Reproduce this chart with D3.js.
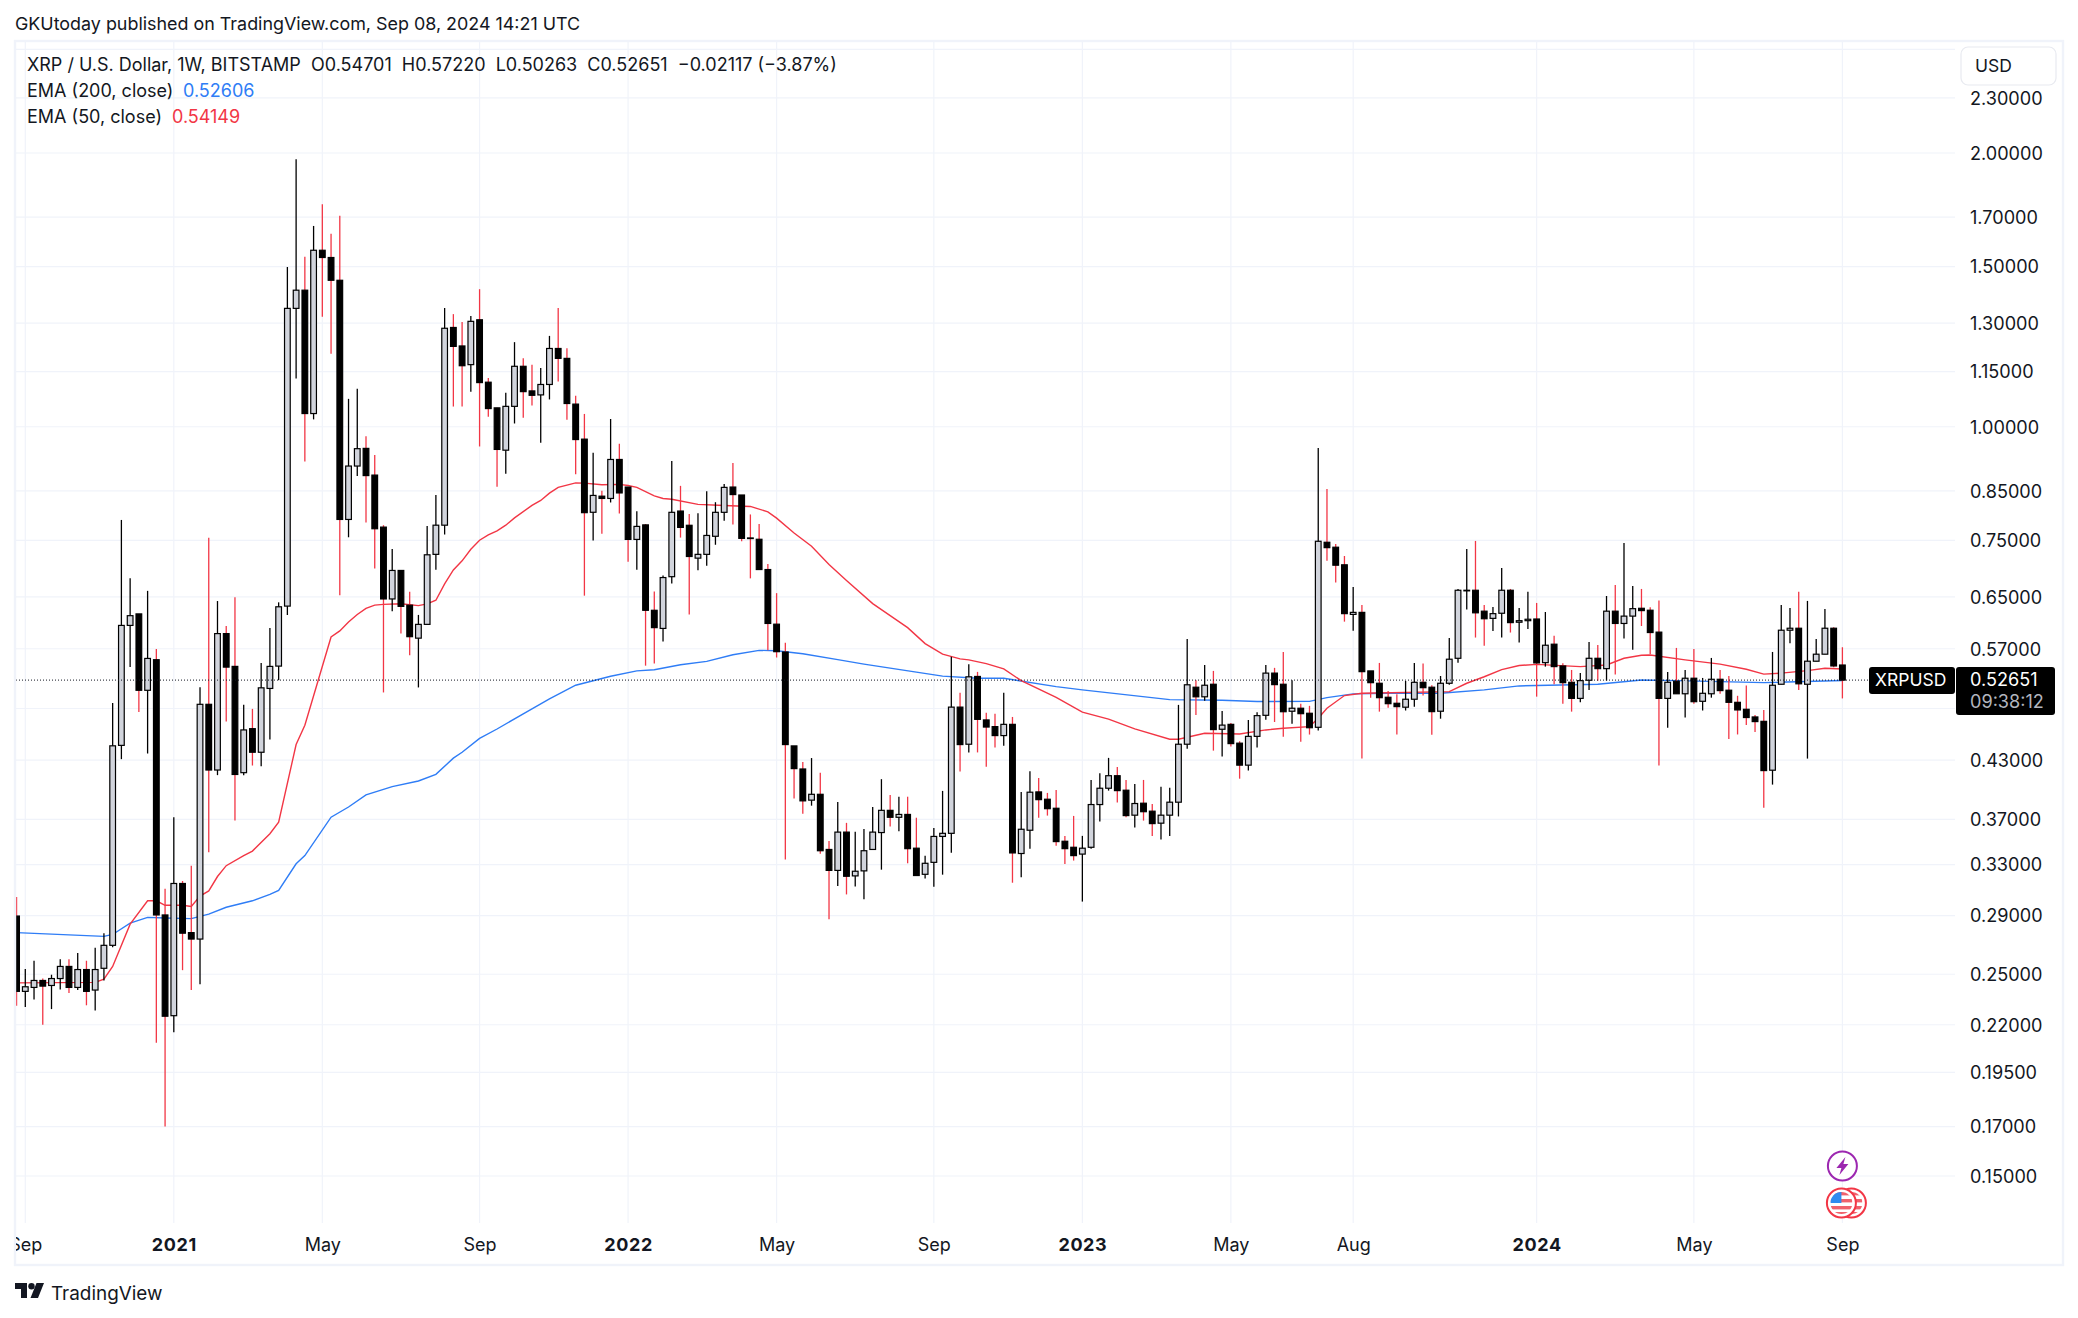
<!DOCTYPE html>
<html>
<head>
<meta charset="utf-8">
<script src="https://d3js.org/d3.v7.min.js"></script>
<style>
  html, body { margin: 0; padding: 0; background: #fff; }
  svg { display: block; }
  text { font-family: Inter, "Noto Sans", sans-serif; fill: #131722; white-space: pre; }
</style>
</head>
<body>
<svg id="chart" width="2078" height="1318"></svg>
<script>
// --- weekly XRP/USD candles, one entry per bar ---
const opens = [
  .2897,.2394,.2418,.2461,.2430,.2473,.2550,.2418,.2530,.2402,
  .2538,.2690,.4463,.6047,.6226,.5131,.5544,.2905,.2251,.3146,
  .2778,.2733,.4952,.4193,.5923,.5451,.4165,.4656,.4386,.5155,
  .5455,.6350,1.3495,1.4131,1.0340,1.5634,1.5350,1.4490,.7908,.9053,
  .9467,.8848,.7756,.6466,.6950,.6365,.5855,.6063,.7239,.7794,
  1.2858,1.2270,1.1703,1.3111,1.1194,1.0490,.9424,1.0530,1.1654,1.0950,
  1.0840,1.1130,1.2192,1.1890,1.0590,.9691,.8053,.8388,.8340,.9205,
  .8584,.7518,.7800,.6283,.6001,.6841,.8078,.7792,.7170,.7239,
  .7578,.8052,.8584,.8413,.7546,.7521,.6966,.6066,.5653,.4457,
  .4204,.3885,.3943,.3429,.3252,.3583,.3207,.3248,.3429,.3579,
  .3786,.3720,.3747,.3440,.3220,.3319,.3544,.3572,.4917,.4476,
  .5314,.4760,.4680,.4575,.4707,.3394,.3600,.3967,.3894,.3806,
  .3501,.3448,.3389,.3448,.3842,.4004,.4133,.3984,.3740,.3855,
  .3778,.3665,.3740,.3865,.4476,.5171,.5047,.5210,.4649,.4707,
  .4488,.4245,.4566,.4816,.5359,.5210,.4866,.4903,.4841,.4672,
  .7464,.7371,.7050,.6218,.6250,.5389,.5223,.5041,.4965,.4916,
  .5016,.5236,.5171,.4866,.5223,.5564,.6604,.6610,.6269,.6156,
  .6236,.6610,.6096,.6120,.6146,.5503,.5766,.5457,.5236,.5027,
  .5263,.5564,.5420,.6269,.6077,.6191,.6315,.6284,.5945,.5027,
  .5250,.5086,.5290,.4990,.5086,.5276,.5132,.4977,.4890,.4796,
  .4743,.4191,.5210,.5974,.6004,.5210,.5523,.5622,.6004,.54701
];
const closes = [
  .2394,.2422,.2461,.2426,.2473,.2550,.2418,.2530,.2394,.2530,
  .2690,.4458,.6047,.6198,.5131,.5562,.2905,.2248,.3146,.2774,
  .2733,.4952,.4193,.5923,.5441,.4146,.4641,.4386,.5163,.5451,
  .6339,1.3495,1.4131,1.0340,1.5634,1.5350,1.4490,.7908,.9053,.9460,
  .8837,.7724,.6466,.6950,.6346,.5877,.6063,.7231,.7794,1.2832,
  1.2256,1.1671,1.3059,1.1183,1.0471,.9442,1.0530,1.1654,1.0930,1.0829,
  1.1130,1.2192,1.1890,1.0606,.9681,.8045,.8404,.8340,.9205,.8457,
  .7518,.7770,.6283,.6013,.6826,.8052,.7750,.7200,.7239,.7594,
  .8052,.8577,.8422,.7538,.7538,.6966,.6077,.5658,.4472,.4208,
  .3878,.3943,.3418,.3252,.3583,.3204,.3245,.3418,.3583,.3786,
  .3720,.3747,.3436,.3210,.3311,.3544,.3572,.4917,.4472,.5309,
  .4767,.4675,.4575,.4707,.3399,.3609,.3964,.3890,.3802,.3498,
  .3436,.3376,.3440,.3842,.4004,.4133,.3980,.3736,.3852,.3773,
  .3661,.3740,.3865,.4476,.5203,.5047,.5197,.4645,.4698,.4483,
  .4245,.4566,.4812,.5359,.5205,.4860,.4903,.4836,.4667,.7483,
  .7363,.7043,.6230,.6250,.5379,.5231,.5036,.4960,.4923,.5016,
  .5236,.5165,.4861,.5223,.5551,.6610,.6610,.6243,.6150,.6230,
  .6610,.6090,.6120,.6142,.5499,.5751,.5448,.5231,.5027,.5258,
  .5564,.5420,.6269,.6077,.6191,.6309,.6278,.5939,.5027,.5236,
  .5086,.5290,.4985,.5092,.5276,.5127,.4977,.4882,.4789,.4740,
  .4187,.5197,.5974,.6004,.5216,.5523,.5622,.6004,.5457,.52651
];
const highs = [
  .3041,.2534,.2587,.2473,.2497,.2596,.2596,.2639,.2587,.2673,
  .2774,.4968,.7898,.6816,.6226,.6600,.5697,.3105,.3721,.3166,
  .3291,.5172,.7550,.6432,.6038,.6494,.4945,.4895,.5499,.6009,
  .6411,1.4990,1.9692,1.5377,1.6627,1.7569,1.6302,1.7058,1.0732,1.1012,
  .9764,.9312,.7794,.7337,.6950,.6583,.6210,.7776,.8413,1.3508,
  1.3300,1.3036,1.3238,1.4167,1.1314,1.0490,1.0896,1.2389,1.1893,1.1697,
  1.1601,1.2587,1.3508,1.2200,1.0817,1.0330,.9362,.8502,1.0199,.9577,
  .8584,.8076,.7817,.6590,.6862,.9170,.8610,.8018,.8034,.8493,
  .8261,.8650,.9121,.8413,.8009,.7817,.7063,.6562,.5788,.4457,
  .4280,.4322,.4163,.3503,.3867,.3668,.3586,.3612,.3819,.4097,
  .3935,.3919,.3919,.3716,.3375,.3621,.3977,.5587,.5098,.5481,
  .5376,.4846,.4834,.5098,.4796,.3967,.4180,.4110,.3957,.3987,
  .3549,.3733,.3549,.4089,.4159,.4324,.4226,.4089,.4048,.4089,
  .3848,.4018,.4008,.4945,.5844,.5263,.5471,.5389,.4870,.4724,
  .4510,.4760,.4854,.5471,.5431,.5654,.5263,.4958,.4933,.9477,
  .8543,.7432,.7209,.6665,.6369,.5389,.5499,.5123,.5080,.5254,
  .5499,.5490,.5197,.5320,.5858,.6632,.7339,.7489,.6369,.6336,
  .6994,.6632,.6320,.6583,.6401,.6256,.5889,.5495,.5402,.5361,
  .5800,.5756,.6515,.6700,.7452,.6682,.6632,.6331,.6439,.5375,
  .5712,.5402,.5697,.5294,.5569,.5402,.5320,.5060,.5192,.4821,
  .4882,.5654,.6369,.6320,.6583,.6434,.5844,.6305,.6020,.5722
];
const lows = [
  .2308,.2301,.2345,.2200,.2289,.2406,.2384,.2402,.2311,.2281,
  .2461,.2677,.4310,.5441,.4857,.4372,.2102,.1700,.2159,.2526,
  .2402,.2438,.3405,.4139,.4740,.3691,.4139,.4241,.4234,.4531,
  .5264,.6209,1.1300,.9158,1.0188,1.3215,1.2034,.6525,.7559,.8825,
  .7845,.6984,.5103,.6267,.5924,.5606,.5168,.6063,.6964,.7612,
  1.0525,1.0525,1.0926,.9513,1.0258,.8592,.8879,1.0083,1.0230,1.0554,
  .9605,1.0716,1.1214,1.0180,.8866,.6520,.7497,.7628,.8255,.8028,
  .7106,.6964,.5461,.5490,.5806,.6725,.7553,.6216,.6952,.7035,
  .7417,.7883,.7806,.7481,.6812,.6966,.5677,.5575,.3343,.3901,
  .3754,.3831,.3393,.2873,.3126,.3060,.3122,.3022,.3429,.3258,
  .3634,.3590,.3311,.3210,.3186,.3121,.3217,.3401,.4178,.4384,
  .4384,.4228,.4438,.4460,.3152,.3197,.3436,.3715,.3736,.3462,
  .3306,.3334,.3005,.3436,.3680,.3980,.3861,.3721,.3626,.3689,
  .3549,.3516,.3549,.3728,.4426,.4821,.4998,.4404,.4338,.4450,
  .4102,.4187,.4438,.4763,.4735,.4561,.4714,.4505,.4587,.4633,
  .7124,.6739,.6105,.5967,.4316,.5036,.4861,.4910,.4587,.4875,
  .4923,.5063,.4586,.4775,.5205,.5503,.6294,.5864,.5745,.5961,
  .5864,.5939,.5790,.5993,.5049,.5448,.5210,.4960,.4861,.4977,
  .5136,.5258,.5258,.5339,.5850,.5687,.6038,.5626,.4241,.4668,
  .5086,.4789,.4958,.4875,.5036,.5086,.4536,.4588,.4700,.4618,
  .3811,.4041,.5210,.5781,.5136,.4316,.5523,.5622,.5439,.50263
];

// EMA curves, sampled at the bars where the curve bends
const ema200Bars = [0,10,11,13,15,17,20,22,24,27,29,30,32,33,36,38,40,43,46,48,50,51,53,55,58,61,64,68,71,73,76,79,82,85,87,90,94,97,103,106,110,113,119,122,132,138,142,148,150,153,157,163,168,172,181,186,190,200,209];
const ema200 = [.2778,.2752,.2765,.2846,.2887,.2883,.2878,.2911,.2962,.3011,.3060,.3091,.3307,.3376,.3721,.3818,.3937,.4021,.4078,.4147,.4321,.4386,.4542,.4652,.4834,.5020,.5197,.5317,.5389,.5405,.5473,.5520,.5614,.5677,.5672,.5629,.5545,.5482,.5373,.5318,.5290,.5289,.5179,.5136,.5011,.5004,.4987,.4989,.5036,.5084,.5093,.5093,.5136,.5188,.5210,.5267,.5258,.5231,.52606];
const ema50Bars = [0,9,10,11,13,15,16,17,19,20,21,22,23,24,26,27,29,30,32,33,36,37,38,39,40,41,42,44,46,47,48,49,50,51,52,53,54,55,56,57,59,60,61,62,64,65,67,69,70,71,73,74,75,78,81,84,86,87,89,91,93,95,98,100,102,104,106,108,109,111,113,115,119,122,125,128,132,133,136,140,143,145,148,149,150,152,154,164,166,168,170,172,174,179,182,184,186,187,191,195,198,200,202,205,207,209];
const ema50 = [.2446,.2449,.2469,.2550,.2838,.3011,.3011,.2977,.2977,.2968,.3047,.3087,.3202,.3291,.3376,.3415,.3568,.3674,.4473,.4697,.5873,.5964,.6100,.6216,.6314,.6365,.6378,.6389,.6358,.6386,.6445,.6718,.6959,.7121,.7332,.7502,.7605,.7681,.7794,.7940,.8195,.8298,.8452,.8576,.8675,.8669,.8634,.8643,.8618,.8576,.8396,.8340,.8323,.8216,.8192,.8173,.8062,.7934,.7642,.7388,.7057,.6776,.6390,.6200,.6013,.5775,.5623,.5555,.5541,.5490,.5416,.5258,.5041,.4854,.4769,.4653,.4533,.4533,.4602,.4594,.4641,.4661,.4680,.4781,.4903,.5063,.5093,.5114,.5223,.5310,.5406,.5463,.5479,.5448,.5471,.5564,.5606,.5610,.5541,.5482,.5412,.5345,.5359,.5393,.5425,.54149];

// axis labels; the two covered prices only show as gridlines
const priceTicks = [2.3,2,1.7,1.5,1.3,1.15,1,.85,.75,.65,.57,.43,.37,.33,.29,.25,.22,.195,.17,.15];
const coveredPrices = [2.6,.49];
const timeTickBars = [1,18,35,53,70,87,105,122,139,153,174,192,209];
const timeTickLabels = ["Sep","2021","May","Sep","2022","May","Sep","2023","May","Aug","2024","May","Sep"];
const yearBars = [18,70,122,174];
const lastClose = .52651;

const RED = "#f23645", BLUE = "#2f7df6", GREY = "#d1d4dc", FRAME = "#f0f3fa", INK = "#131722";

const svg = d3.select("#chart");

const x = d3.scaleLinear().domain([0, 209]).range([16.56, 1842.4]);
const y = d3.scaleLog().domain([2, .15]).range([153, 1176]);

const defs = svg.append("defs");
defs.append("clipPath").attr("id", "pane").append("rect").attr("x", 16).attr("y", 42).attr("width", 1939).attr("height", 1181);
defs.append("clipPath").attr("id", "timeAxis").append("rect").attr("x", 16).attr("y", 1224).attr("width", 2046).attr("height", 40);

// header above the frame
svg.append("text").attr("x", 15).attr("y", 23.5).attr("dy", ".35em").style("font-size", "17.9px")
  .text("GKUtoday published on TradingView.com, Sep 08, 2024 14:21 UTC");

// gridlines
const pane = svg.append("g").attr("clip-path", "url(#pane)");
pane.append("g").selectAll("line").data(priceTicks.concat(coveredPrices)).enter().append("line")
  .attr("x1", 16).attr("x2", 1955).attr("y1", d => y(d)).attr("y2", d => y(d))
  .attr("stroke", FRAME).attr("stroke-width", 1.2);
pane.append("g").selectAll("line").data(timeTickBars).enter().append("line")
  .attr("x1", d => x(d)).attr("x2", d => x(d)).attr("y1", 42).attr("y2", 1223)
  .attr("stroke", FRAME).attr("stroke-width", 1.2);

// EMA lines
const emaLine = d3.line().x(d => x(d[0])).y(d => y(d[1]));
pane.append("path").attr("d", emaLine(d3.zip(ema200Bars, ema200))).attr("fill", "none").attr("stroke", BLUE).attr("stroke-width", 1.4);
pane.append("path").attr("d", emaLine(d3.zip(ema50Bars, ema50))).attr("fill", "none").attr("stroke", RED).attr("stroke-width", 1.4);

// last price line
svg.append("line").attr("x1", 16).attr("x2", 1869).attr("y1", y(lastClose)).attr("y2", y(lastClose))
  .attr("stroke", INK).attr("stroke-width", 1).attr("stroke-dasharray", "1 2");

// candles
const candles = pane.append("g");
const bodyWidth = 5.7;
opens.forEach((o, i) => {
  const c = closes[i], up = c >= o;
  const top = y(Math.max(o, c)), bottom = y(Math.min(o, c));
  candles.append("line")
    .attr("x1", x(i)).attr("x2", x(i)).attr("y1", y(highs[i])).attr("y2", y(lows[i]))
    .attr("stroke", up ? "#000" : RED).attr("stroke-width", 1.3);
  candles.append("rect")
    .attr("x", x(i) - bodyWidth / 2).attr("width", bodyWidth)
    .attr("y", top).attr("height", Math.max(bottom - top, .6))
    .attr("fill", up ? GREY : "#000").attr("stroke", "#000").attr("stroke-width", 1.2);
});

// frame
svg.append("rect").attr("x", 15).attr("y", 41).attr("width", 2048).attr("height", 1224)
  .attr("fill", "none").attr("stroke", FRAME).attr("stroke-width", 2.4);

// price axis
const priceAxis = svg.append("g").attr("transform", "translate(1970,.5)")
  .call(d3.axisRight(y).tickValues(priceTicks).tickSize(0).tickPadding(0).tickFormat(d3.format(".5f")));
priceAxis.select(".domain").remove();
priceAxis.selectAll("text").style("font-size", "18.1px").attr("fill", null).style("font-family", "Inter");

// time axis
const timeAxis = svg.append("g").attr("clip-path", "url(#timeAxis)").append("g").attr("transform", "translate(0,1238)")
  .call(d3.axisBottom(x).tickValues(timeTickBars).tickSize(0).tickPadding(0)
    .tickFormat((d, i) => timeTickLabels[i]));
timeAxis.select(".domain").remove();
timeAxis.selectAll("text").style("font-size", "18px").style("font-family", "Inter").attr("fill", null)
  .style("font-weight", d => yearBars.includes(d) ? 700 : 400)
  .style("letter-spacing", d => yearBars.includes(d) ? ".6px" : null);

// legend
const legend = svg.append("g").style("font-size", "18px");
legend.append("text").attr("x", 27).attr("y", 64.5).attr("dy", ".35em")
  .text("XRP / U.S. Dollar, 1W, BITSTAMP  O0.54701  H0.57220  L0.50263  C0.52651  \u22120.02117 (\u22123.87%)");
legend.append("text").attr("x", 27).attr("y", 90.5).attr("dy", ".35em").text("EMA (200, close)");
legend.append("text").attr("x", 183).attr("y", 90.5).attr("dy", ".35em").style("fill", BLUE).text("0.52606");
legend.append("text").attr("x", 27).attr("y", 116.5).attr("dy", ".35em").text("EMA (50, close)");
legend.append("text").attr("x", 172).attr("y", 116.5).attr("dy", ".35em").style("fill", RED).text("0.54149");

// USD button
svg.append("rect").attr("x", 1961).attr("y", 47).attr("width", 95).attr("height", 38).attr("rx", 7)
  .attr("fill", "#fff").attr("stroke", "#e8eaf0").attr("stroke-width", 1.2);
svg.append("text").attr("x", 1975).attr("y", 65.5).attr("dy", ".35em").style("font-size", "17.5px").text("USD");

// last price labels
const py = y(lastClose);
svg.append("rect").attr("x", 1869).attr("y", py - 13).attr("width", 86).attr("height", 27).attr("rx", 3).attr("fill", "#000");
svg.append("text").attr("x", 1875).attr("y", py).attr("dy", ".35em").style("font-size", "17.5px").style("fill", "#fff").text("XRPUSD");
svg.append("rect").attr("x", 1956).attr("y", py - 13).attr("width", 99).attr("height", 48).attr("rx", 3).attr("fill", "#000");
svg.append("text").attr("x", 1970).attr("y", py).attr("dy", ".35em").style("font-size", "18.1px").style("fill", "#fff").text(d3.format(".5f")(lastClose));
svg.append("text").attr("x", 1970).attr("y", py + 22).attr("dy", ".35em").style("font-size", "18.1px").style("fill", "#b2b5be").text("09:38:12");

// event icons under the last bar
const iconX = x(209);
const bolt = svg.append("g").attr("transform", `translate(${iconX},1166)`);
bolt.append("circle").attr("r", 14.5).attr("fill", "#fff").attr("stroke", "#9c27b0").attr("stroke-width", 2);
bolt.append("path").attr("d", "M3 -9 L-6 2 L-1 2 L-3 9 L6 -2 L1 -2 Z").attr("fill", "#9c27b0");

const flag = (fx) => {
  const g = svg.append("g").attr("transform", `translate(${fx},1203)`);
  g.append("circle").attr("r", 14.5).attr("fill", "#fff").attr("stroke", RED).attr("stroke-width", 2);
  g.append("clipPath").attr("id", "flag" + Math.round(fx)).append("circle").attr("r", 11);
  const f = g.append("g").attr("clip-path", `url(#flag${Math.round(fx)})`);
  [-11, -4, 3, 9].forEach(v => f.append("rect").attr("x", -11).attr("y", v).attr("width", 22).attr("height", 3.4).attr("fill", "#f0626c"));
  f.append("rect").attr("x", -11).attr("y", -11).attr("width", 11).attr("height", 11).attr("fill", "#2f8cf0");
};
flag(iconX + 9);
flag(iconX - 1);

// TradingView mark
const logo = svg.append("g").attr("fill", INK);
logo.append("path").attr("d", "M15 1283H27V1298H21V1289H15Z");
logo.append("circle").attr("cx", 31.5).attr("cy", 1286.3).attr("r", 3.2);
logo.append("path").attr("d", "M44 1283L38 1298H30.5L36.5 1283Z");
svg.append("text").attr("x", 51).attr("y", 1293).attr("dy", ".35em").style("font-size", "18.9px").text("TradingView");
</script>
</body>
</html>
